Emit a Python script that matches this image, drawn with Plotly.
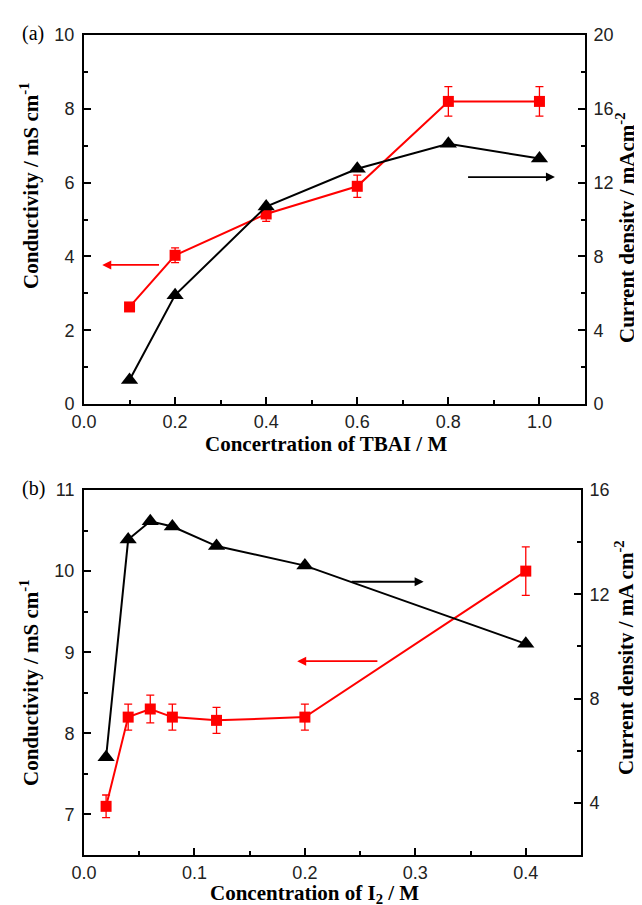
import plotly.graph_objects as go

# ---------------- data ----------------
# panel (a): TBAI concentration
tbai_conc = [0.1, 0.2, 0.4, 0.6, 0.8, 1.0]
tbai_conductivity = [2.63, 4.03, 5.15, 5.9, 8.2, 8.2]
tbai_cond_err = [0.1, 0.2, 0.2, 0.3, 0.4, 0.4]
tbai_current = [1.3, 5.9, 10.7, 12.75, 14.1, 13.3]

# panel (b): I2 concentration
i2_conc = [0.02, 0.04, 0.06, 0.08, 0.12, 0.2, 0.4]
i2_conductivity = [7.1, 8.2, 8.3, 8.2, 8.16, 8.2, 10.0]
i2_cond_err = [0.14, 0.16, 0.17, 0.16, 0.16, 0.16, 0.3]
i2_current = [5.75, 14.1, 14.8, 14.6, 13.85, 13.1, 10.1]

RED = "#ff0000"
BLACK = "#000000"
SERIF = "Liberation Serif, Times New Roman, serif"
SANS = "Liberation Sans, Arial, sans-serif"

fig = go.Figure()

def add_panel(xa, yl, yr, x, cond, err, cur):
    fig.add_trace(go.Scatter(
        x=x, y=cur, xaxis=xa, yaxis=yr, mode="lines+markers",
        line=dict(color=BLACK, width=2),
        marker=dict(symbol="triangle-up", size=15, color=BLACK),
        showlegend=False))
    fig.add_trace(go.Scatter(
        x=x, y=cond, xaxis=xa, yaxis=yl, mode="lines+markers",
        line=dict(color=RED, width=2),
        marker=dict(symbol="square", size=11, color=RED),
        error_y=dict(type="data", array=err, visible=True, color=RED,
                     thickness=1.3, width=4),
        showlegend=False))

add_panel("x", "y", "y2", tbai_conc, tbai_conductivity, tbai_cond_err, tbai_current)
add_panel("x2", "y3", "y4", i2_conc, i2_conductivity, i2_cond_err, i2_current)

tickfont = dict(family=SANS, size=18, color="#222222")
titlefont = dict(family=SERIF, size=21, color=BLACK)

common = dict(showline=True, linecolor=BLACK, linewidth=2, ticks="inside",
              ticklen=7, tickwidth=2, tickcolor=BLACK, tickfont=tickfont,
              showgrid=False, zeroline=False)

def minor(vals):
    return dict(ticks="inside", tickvals=vals, ticklen=4, tickwidth=2, tickcolor=BLACK)

L, R, T, B = 76, 65, 27, 58
W, H = 642, 905
pw, ph = W - L - R, H - T - B

def ydom(top_px, bot_px):
    return [(H - B - bot_px) / ph, (H - B - top_px) / ph]

def px_x(px):
    return (px - L) / pw

def px_y(py):
    return (H - B - py) / ph

fig.update_layout(
    width=W, height=H, margin=dict(l=L, r=R, t=T, b=B),
    paper_bgcolor="white", plot_bgcolor="white",
    xaxis=dict(common, domain=[0, 1], anchor="y", range=[0, 1.1],
               tickvals=[0, 0.2, 0.4, 0.6, 0.8, 1.0], tickformat=".1f",
               minor=minor([0.1, 0.3, 0.5, 0.7, 0.9]), mirror=True),
    yaxis=dict(common, domain=ydom(27, 396), anchor="x", range=[0, 10],
               tickvals=[0, 2, 4, 6, 8, 10], minor=minor([1, 3, 5, 7, 9]),
               ticklabelstandoff=4),
    yaxis2=dict(common, overlaying="y", anchor="x", side="right", range=[0, 20],
                tickvals=[0, 4, 8, 12, 16, 20], minor=minor([2, 6, 10, 14, 18]),
                ticklabelstandoff=3),
    xaxis2=dict(common, domain=[0, 497 / pw], anchor="y3", range=[0, 0.45],
                tickvals=[0, 0.1, 0.2, 0.3, 0.4], tickformat=".1f",
                minor=minor([0.05, 0.15, 0.25, 0.35]), mirror=True),
    yaxis3=dict(common, domain=ydom(482, 847), anchor="x2", range=[6.5, 11],
                tickvals=[7, 8, 9, 10, 11], minor=minor([7.5, 8.5, 9.5, 10.5]),
                ticklabelstandoff=4),
    yaxis4=dict(common, overlaying="y3", anchor="x2", side="right", range=[2, 16],
                tickvals=[4, 8, 12, 16], minor=minor([6, 10, 14]),
                ticklabelstandoff=3),
)

# axis titles (pixel centres, compensated for annotation text offset)
titles = [
    ("<b>Concertration of TBAI / M</b>", 318, 436, 0),
    ("<b>Concentration of I<sub>2</sub> / M</b>", 306, 886, 0),
    ("<b>Conductivity / mS cm<sup>-1</sup></b>", 21, 178, -90),
    ("<b>Current density / mAcm<sup>-2</sup></b>", 617, 220, -90),
    ("<b>Conductivity / mS cm<sup>-1</sup></b>", 21, 675, -90),
    ("<b>Current density / mA cm<sup>-2</sup></b>", 616, 650, -90),
]
for text, x, y, ang in titles:
    fig.add_annotation(text=text, xref="paper", yref="paper", x=px_x(x), y=px_y(y),
                       showarrow=False, font=titlefont, textangle=ang,
                       xanchor="center", yanchor="middle", borderpad=0)

arrow = dict(showarrow=True, arrowhead=2, arrowsize=1, arrowwidth=1.8, text="")
fig.add_annotation(arrow, x=0.04, y=3.77, xref="x", yref="y", ax=0.168, ay=3.77,
                   axref="x", ayref="y", arrowcolor=RED)
fig.add_annotation(arrow, x=1.034, y=12.3, xref="x", yref="y2", ax=0.84, ay=12.3,
                   axref="x", ayref="y2", arrowcolor=BLACK)
fig.add_annotation(arrow, x=0.3075, y=12.48, xref="x2", yref="y4", ax=0.241, ay=12.48,
                   axref="x2", ayref="y4", arrowcolor=BLACK)
fig.add_annotation(arrow, x=0.193, y=8.89, xref="x2", yref="y3", ax=0.267, ay=8.89,
                   axref="x2", ayref="y3", arrowcolor=RED)

panel_font = dict(family=SERIF, size=20, color=BLACK)
fig.add_annotation(text="(a)", xref="paper", yref="paper", x=px_x(25),
                   y=px_y(25), showarrow=False, font=panel_font,
                   xanchor="center", yanchor="middle")
fig.add_annotation(text="(b)", xref="paper", yref="paper", x=px_x(25),
                   y=px_y(480), showarrow=False, font=panel_font,
                   xanchor="center", yanchor="middle")

fig.write_html("out.html")
